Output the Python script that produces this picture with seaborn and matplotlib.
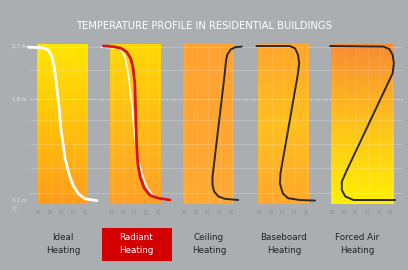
import matplotlib
matplotlib.use('Agg')
import matplotlib.pyplot as plt
import matplotlib.transforms as mtransforms
from matplotlib.colors import LinearSegmentedColormap
from matplotlib.patches import Rectangle
import numpy as np
import seaborn as sns

# --------------------------------------------------
# data
TITLE = 'TEMPERATURE PROFILE IN RESIDENTIAL BUILDINGS'
systems = ['Ideal\nHeating', 'Radiant\nHeating', 'Ceiling\nHeating',
           'Baseboard\nHeating', 'Forced Air\nHeating']
height_ticks = [2.7, 1.8, 0.1]
height_labels = ['2,7 m', '1,8 m', '0,1 m']
temp_ticks = [16, 18, 20, 22, 24]
temp_ticks_forced = [16, 18, 20, 22, 24, 26]

ideal_temp = [14.2, 16.7, 17.6, 18.2, 18.6, 18.9, 19.2, 19.5, 19.7, 20.1,
              20.5, 21.1, 21.8, 22.8, 23.9, 25.9]
ideal_height = [2.68, 2.67, 2.63, 2.52, 2.35, 2.13, 1.87, 1.62, 1.34, 1.06,
                0.78, 0.55, 0.35, 0.20, 0.12, 0.09]

radiant_temp = [14.5, 16.2, 17.6, 18.5, 19.2, 19.6, 19.9, 20.0, 20.1, 20.2,
                20.4, 20.8, 21.5, 22.5, 23.9, 25.9]
radiant_height = [2.70, 2.69, 2.66, 2.60, 2.49, 2.32, 2.07, 1.73, 1.40, 1.06,
                  0.72, 0.49, 0.30, 0.18, 0.13, 0.10]

ceiling_temp = [25.7, 24.6, 23.8, 23.2, 23.0, 22.8, 20.7, 20.7, 21.0, 21.7,
                22.8, 25.1]
ceiling_height = [2.69, 2.68, 2.64, 2.55, 2.44, 2.24, 0.49, 0.35, 0.24, 0.16,
                  0.12, 0.10]

baseboard_temp = [15.4, 21.1, 22.0, 22.5, 22.7, 22.5, 19.5, 19.4, 19.9, 20.8,
                  22.8, 25.4]
baseboard_height = [2.70, 2.70, 2.66, 2.55, 2.41, 2.24, 0.55, 0.38, 0.21,
                    0.13, 0.10, 0.09]

forced_temp = [15.5, 24.6, 25.6, 26.2, 26.4, 26.2, 18.4, 17.5, 17.5, 18.1,
               19.5, 26.6]
forced_height = [2.70, 2.69, 2.65, 2.55, 2.41, 2.24, 0.61, 0.41, 0.27, 0.16,
                 0.10, 0.10]

grid_heights = [2.68, 2.30, 1.45, 1.05, 0.64, 0.22]

# --------------------------------------------------
# style
BG = '#abaeb1'
PX = 5.85                # pixels per degree
W, H = 408, 270
panel_tick16_px = [39, 112, 185, 260, 333]
panel_grads = [
    ['#ff9c1c', '#ffc20a', '#ffe600'],
    ['#ffa028', '#ffbc16', '#ffd806'],
    ['#ffaa32', '#ffa632', '#ffa232'],
    ['#ffa82c', '#ffc01e', '#ffa62e'],
    ['#fff000', '#ffc21a', '#f88c34'],
]
curve_styles = [('#ffffff', 2.0), ('#d81414', 2.0), ('#2e2a26', 1.4),
                ('#2e2a26', 1.4), ('#2e2a26', 1.4)]

sns.set_style('white')
plt.rcParams['font.family'] = ['DejaVu Sans']

fig = plt.figure(figsize=(W / 100, H / 100), dpi=100, facecolor=BG)

# vertical placement: 0.1 m at y=200px, 2.7 m at y=46px
ppm = (200 - 46) / 2.6
ax_top_px = 200 - (2.8 - 0.1) * ppm
ax_bot_px = 200 + 0.1 * ppm
ax_b = (H - ax_bot_px) / H
ax_h = (ax_bot_px - ax_top_px) / H

# background grid
bg = fig.add_axes([0, ax_b, 1, ax_h])
bg.set_xlim(0, W)
bg.set_ylim(0, 2.8)
bg.axis('off')
for g in grid_heights:
    bg.hlines(g, 30, 402, color='white', lw=0.6, alpha=0.25)
bg.hlines(1.8, 30, 402, color='white', lw=0.8, alpha=0.6,
          linestyles=(0, (1.2, 1.2)))
for h, lab in zip(height_ticks, height_labels):
    bg.text(12, h, lab, color='#e4e4e4', fontsize=3.6, va='center', ha='left')
bg.text(12, -0.02, '°C', color='#e4e4e4', fontsize=3.6, va='top', ha='left')

fig.text(0.5, 1 - 26 / H, TITLE, color='white', fontsize=7.2, ha='center',
         va='center')

curves = [(ideal_temp, ideal_height), (radiant_temp, radiant_height),
          (ceiling_temp, ceiling_height), (baseboard_temp, baseboard_height),
          (forced_temp, forced_height)]

for i, name in enumerate(systems):
    left_px = panel_tick16_px[i] - 3 * PX
    ax = fig.add_axes([left_px / W, ax_b, 14 * PX / W, ax_h])
    ax.patch.set_alpha(0)
    for s in ax.spines.values():
        s.set_visible(False)

    ticks = temp_ticks_forced if i == 4 else temp_ticks
    x0, x1 = ticks[0] - 0.35, ticks[-1] + 0.35
    cmap = LinearSegmentedColormap.from_list('g%d' % i, panel_grads[i])
    grad = np.linspace(0, 1, 256).reshape(-1, 1)
    ax.imshow(grad, extent=(x0, x1, 0.03, 2.73), origin='lower', cmap=cmap,
              aspect='auto', zorder=1)
    ax.set_xlim(13, 27)
    ax.set_ylim(0, 2.8)
    for g in grid_heights:
        ax.hlines(g, x0, x1, color='white', lw=0.6, alpha=0.22, zorder=2)
    ax.hlines(1.8, x0, x1, color='white', lw=0.8, alpha=0.55,
              linestyles=(0, (1.2, 1.2)), zorder=2)
    ax.vlines(ticks, 0.03, 2.73, color='white', lw=0.5, alpha=0.15, zorder=2)

    if i == 1:
        sns.lineplot(x=ideal_temp, y=ideal_height, sort=False, estimator=None,
                     color='white', lw=1.2, ax=ax, zorder=3)
    c, lw = curve_styles[i]
    sns.lineplot(x=curves[i][0], y=curves[i][1], sort=False, estimator=None,
                 color=c, lw=lw, ax=ax, zorder=4)
    for line in ax.lines:
        line.set_solid_capstyle('round')
        line.set_solid_joinstyle('round')

    ax.set_xticks(ticks)
    ax.set_xticklabels([str(t) for t in ticks], rotation=90, fontsize=3.6,
                       color='#8c8f92')
    ax.tick_params(axis='x', length=0, pad=1.5)
    ax.set_yticks([])
    ax.set_xlabel('')
    ax.set_ylabel('')

    trans = mtransforms.blended_transform_factory(ax.transData,
                                                  fig.transFigure)
    if i == 1:
        ax.add_patch(Rectangle((14.3, (H - 261) / H), 11.95, 33 / H,
                               transform=trans, facecolor='#d40000',
                               edgecolor='none', clip_on=False, zorder=0))
        col = 'white'
    else:
        col = '#222222'
    ax.text(20.1, 1 - 244 / H, name, transform=trans, ha='center',
            va='center', fontsize=6.3, color=col, linespacing=1.5)

fig.savefig('out.png', dpi=100, facecolor=BG)
